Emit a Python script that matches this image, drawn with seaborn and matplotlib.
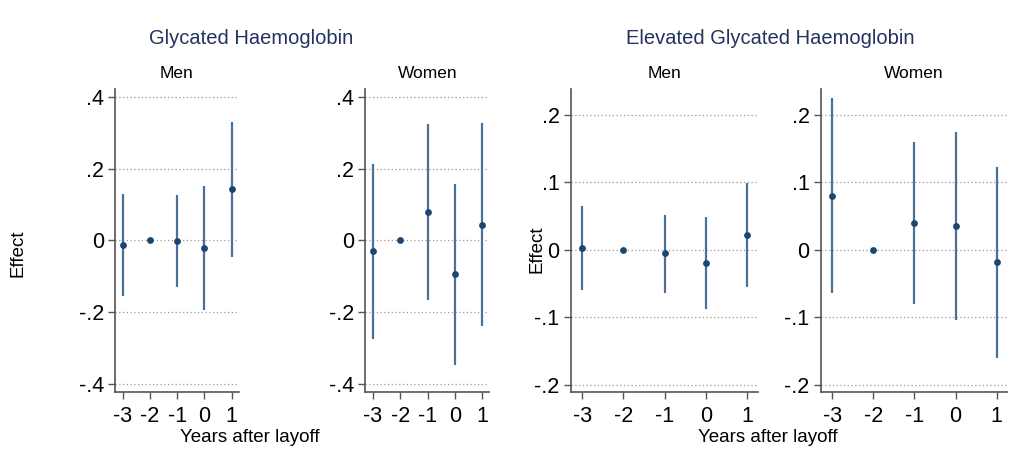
import matplotlib
matplotlib.use("Agg")
import matplotlib.pyplot as plt
import seaborn as sns
import numpy as np
import pandas as pd

sns.set_theme(style="white")
plt.rcParams['font.family'] = ['Liberation Sans', 'DejaVu Sans']
plt.rcParams['text.color'] = 'black'

years = [-3, -2, -1, 0, 1]

# Glycated Haemoglobin
gly_men_est = [-0.013, 0.0, -0.002, -0.022, 0.142]
gly_men_lo = [-0.156, 0.0, -0.131, -0.195, -0.046]
gly_men_hi = [0.129, 0.0, 0.127, 0.151, 0.330]

gly_women_est = [-0.031, 0.0, 0.078, -0.094, 0.042]
gly_women_lo = [-0.275, 0.0, -0.167, -0.348, -0.240]
gly_women_hi = [0.214, 0.0, 0.323, 0.157, 0.326]

# Elevated Glycated Haemoglobin
elev_men_est = [0.003, 0.0, -0.005, -0.020, 0.022]
elev_men_lo = [-0.060, 0.0, -0.064, -0.088, -0.055]
elev_men_hi = [0.065, 0.0, 0.052, 0.048, 0.099]

elev_women_est = [0.080, 0.0, 0.040, 0.035, -0.018]
elev_women_lo = [-0.064, 0.0, -0.080, -0.105, -0.160]
elev_women_hi = [0.225, 0.0, 0.160, 0.174, 0.123]

gly_ticks = [-0.4, -0.2, 0, 0.2, 0.4]
gly_labels = ["-.4", "-.2", "0", ".2", ".4"]
elev_ticks = [-0.2, -0.1, 0, 0.1, 0.2]
elev_labels = ["-.2", "-.1", "0", ".1", ".2"]

titles = ["Glycated Haemoglobin", "Elevated Glycated Haemoglobin"]
subtitles = ["Men", "Women"]

W, H = 1030, 467
fig = plt.figure(figsize=(W / 100, H / 100), dpi=100)

def ax_at(l, r, t=89, b=392):
    return fig.add_axes([l / W, (H - b) / H, (r - l) / W, (b - t) / H])

point_col = "#1a476f"
line_col = "#4a7196"
title_col = "#22335f"

panels = [
    (ax_at(115, 238.7), gly_men_est, gly_men_lo, gly_men_hi, gly_ticks, gly_labels, (-0.423, 0.422), subtitles[0]),
    (ax_at(365.3, 489.3), gly_women_est, gly_women_lo, gly_women_hi, gly_ticks, gly_labels, (-0.423, 0.422), subtitles[1]),
    (ax_at(570.7, 757.7), elev_men_est, elev_men_lo, elev_men_hi, elev_ticks, elev_labels, (-0.211, 0.238), subtitles[0]),
    (ax_at(820.7, 1007.3), elev_women_est, elev_women_lo, elev_women_hi, elev_ticks, elev_labels, (-0.211, 0.238), subtitles[1]),
]

for ax, est, lo, hi, ticks, labels, ylim, sub in panels:
    df = pd.DataFrame({"year": years, "est": est, "lo": lo, "hi": hi})
    for t in ticks:
        ax.axhline(t, color="#9a9a9a", lw=0.9, ls=(0, (1, 2)), zorder=0)
    ci = df[df["hi"] != df["lo"]]
    ax.vlines(ci["year"], ci["lo"], ci["hi"], color=line_col, lw=1.6, zorder=2)
    sns.scatterplot(data=df, x="year", y="est", ax=ax, color=point_col, s=24,
                    edgecolor=point_col, linewidth=0, zorder=3, legend=False)
    ax.set_xlim(-3.28, 1.26)
    ax.set_ylim(*ylim)
    ax.set_yticks(ticks)
    ax.set_yticklabels(labels)
    ax.set_xticks(years)
    ax.set_xticklabels([str(y) for y in years])
    ax.set_xlabel("")
    ax.set_ylabel("")
    for s in ["top", "right"]:
        ax.spines[s].set_visible(False)
    for s in ["left", "bottom"]:
        ax.spines[s].set_color("#555555")
        ax.spines[s].set_linewidth(1.2)
    ax.tick_params(axis="both", which="both", direction="out", length=5, width=1,
                   color="#555555", labelsize=15.5, labelcolor="black", pad=3,
                   left=True, bottom=True)
    ax.tick_params(axis="x", pad=5)
    ax.grid(False)
    ax.set_title(sub, fontsize=12.5, color="black", pad=8)

fig.text(251 / W, 1 - 38 / H, titles[0], ha="center", va="center", fontsize=14.5, color=title_col)
fig.text(770 / W, 1 - 38 / H, titles[1], ha="center", va="center", fontsize=14.5, color=title_col)
fig.text(18.5 / W, 1 - 253 / H, "Effect", rotation=90, ha="center", va="center", fontsize=13.5, color="black")
fig.text(537 / W, 1 - 249 / H, "Effect", rotation=90, ha="center", va="center", fontsize=13.5, color="black")
fig.text(250 / W, 1 - 437 / H, "Years after layoff", ha="center", va="center", fontsize=13.5, color="black")
fig.text(768 / W, 1 - 437 / H, "Years after layoff", ha="center", va="center", fontsize=13.5, color="black")

fig.savefig("out.png", dpi=100, facecolor="white")
